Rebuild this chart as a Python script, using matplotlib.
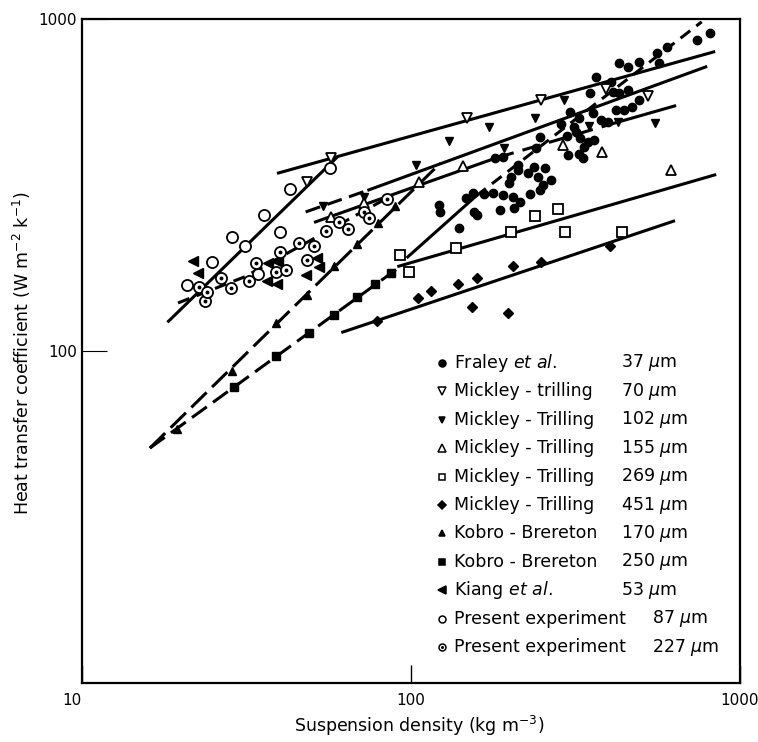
import matplotlib.pyplot as plt

# Fraley et al. 37 um (filled circles)
fraley_x = [121.7, 122.6, 140.1, 147.2, 154.5, 155.6, 158.9, 167.0, 177.8, 180.3,
            186.7, 190.8, 190.8, 199.0, 201.8, 204.6, 206.1, 211.9, 211.9, 214.9,
            227.3, 230.5, 237.1, 240.5, 243.9, 247.4, 247.4, 252.6, 256.2, 267.2,
            286.6, 299.0, 301.1, 305.4, 314.1, 318.5, 325.3, 325.3, 327.6, 334.6,
            336.9, 346.5, 351.4, 358.9, 361.4, 366.5, 379.6, 398.7, 407.2, 413.0,
            421.7, 430.6, 430.6, 446.1, 458.8, 458.8, 468.6, 492.2, 495.0, 558.5,
            566.2, 598.9, 739.6, 810.0]
fraley_y = [275.3, 262.3, 234.7, 289.0, 299.2, 262.3, 256.9, 297.1, 299.2, 381.3,
            266.0, 384.0, 295.1, 320.7, 334.3, 291.0, 269.7, 363.3, 350.9, 281.1,
            343.6, 297.1, 358.3, 408.8, 334.3, 441.1, 305.5, 316.2, 355.8, 327.4,
            482.6, 444.2, 389.4, 524.5, 472.7, 456.6, 503.1, 392.1, 438.1, 381.3,
            411.6, 426.1, 598.8, 520.9, 432.0, 669.0, 496.2, 489.4, 646.2, 602.9,
            531.8, 598.8, 737.2, 531.8, 716.9, 611.3, 543.0, 742.3, 570.0, 790.0,
            737.2, 823.7, 864.6, 907.5]

# Mickley-Trilling 70 um (open down triangles)
mt70_x = [48.2, 57.0, 148.2, 249.1, 393.0, 524.3]
mt70_y = [322.8, 381.3, 503.1, 570.2, 615.5, 586.2]

# Mickley-Trilling 102 um (filled down triangles)
mt102_x = [53.9, 71.9, 103.6, 130.6, 172.9, 192.1, 238.8, 292.8, 348.9, 427.6, 550.6]
mt102_y = [273.4, 291.0, 363.3, 429.0, 472.7, 408.8, 503.1, 570.2, 476.1, 489.4, 485.9]

# Mickley-Trilling 155 um (open up triangles)
mt155_x = [57.0, 71.9, 105.8, 144.1, 290.7, 382.2, 616.1]
mt155_y = [253.3, 279.1, 322.8, 360.9, 417.3, 397.6, 350.9]

# Mickley-Trilling 269 um (open squares)
mt269_x = [92.6, 98.6, 137.0, 202.0, 239.0, 281.0, 295.0, 437.0]
mt269_y = [195.0, 173.0, 204.0, 228.0, 255.0, 268.0, 228.0, 228.0]

# Mickley-Trilling 451 um (filled diamonds)
mt451_x = [78.8, 105.0, 115.0, 139.0, 159.0, 153.0, 198.0, 205.0, 249.0, 404.0]
mt451_y = [123.0, 144.0, 152.0, 159.0, 166.0, 136.0, 130.0, 180.0, 185.0, 207.0]

# Kobro-Brereton 170 um (filled up triangles)
kb170_x = [19.5, 28.7, 38.8, 48.2, 58.2, 68.4, 79.3, 89.3]
kb170_y = [58.2, 87.1, 121.0, 147.0, 180.0, 210.0, 243.0, 273.0]

# Kobro-Brereton 250 um (filled squares)
kb250_x = [29.1, 38.8, 48.9, 58.2, 68.4, 77.6, 86.9]
kb250_y = [78.0, 96.6, 113.0, 128.0, 145.0, 159.0, 172.0]

# Kiang et al. 53 um (filled left triangles)
kiang_x = [21.8, 22.6, 36.9, 39.6, 36.6, 39.3, 47.9, 51.7, 52.4]
kiang_y = [187.0, 172.0, 184.0, 185.0, 163.0, 159.0, 169.0, 191.0, 179.0]

# Present experiment 87 um (open circles)
pe87_x = [20.9, 24.9, 28.7, 31.4, 34.2, 35.7, 39.9, 42.8, 56.6]
pe87_y = [158.0, 185.0, 220.0, 207.0, 171.0, 257.0, 228.0, 307.0, 356.0]

# Present experiment 227 um (dotted circles)
pe227_x = [22.7, 23.7, 24.0, 26.5, 28.5, 32.3, 33.9, 38.8, 40.1, 41.6,
           45.6, 48.5, 50.6, 55.1, 60.3, 64.3, 71.9, 74.5, 84.5]
pe227_y = [156.0, 141.0, 150.0, 166.0, 155.0, 163.0, 184.0, 173.0, 199.0, 175.0,
           211.0, 188.0, 207.0, 230.0, 245.0, 233.0, 262.0, 252.0, 287.0]

# correlation lines (end points)
line_pe87_x, line_pe87_y = [18.2, 59.8], [122.0, 384.0]
line_pe227_x, line_pe227_y = [19.6, 31.2, 88.1], [139.5, 167.1, 295.0]
line_kb170_x, line_kb170_y = [16.1, 123.0], [51.0, 368.0]
line_kb250_x, line_kb250_y = [16.1, 93.2], [51.0, 180.0]
line_mt451_x, line_mt451_y = [62.1, 629.0], [114.0, 246.0]
line_mt269_x, line_mt269_y = [91.9, 839.0], [180.0, 339.0]
line_fr_solid_x, line_fr_solid_y = [97.9, 158.0], [192.0, 293.0]
line_fr_dash_x, line_fr_dash_y = [158.0, 766.0], [293.0, 980.0]
line_mt70_x, line_mt70_y = [39.6, 833.0], [343.6, 795.5]
line_mt102_dash_x, line_mt102_dash_y = [47.9, 74.5], [262.3, 305.5]
line_mt102_x, line_mt102_y = [74.5, 787.6], [305.5, 716.9]
line_mt155_a_x, line_mt155_a_y = [51.3, 181.6], [244.7, 381.3]
line_mt155_b_x, line_mt155_b_y = [181.6, 427.6], [381.3, 489.4]
line_mt155_c_x, line_mt155_c_y = [427.6, 633.7], [489.4, 546.9]

legend_names = ["Fraley $\\it{et\\ al.}$", "Mickley - trilling", "Mickley - Trilling",
                "Mickley - Trilling", "Mickley - Trilling", "Mickley - Trilling",
                "Kobro - Brereton", "Kobro - Brereton", "Kiang $\\it{et\\ al.}$",
                "Present experiment", "Present experiment"]
legend_sizes = ["37", "70", "102", "155", "269", "451", "170", "250", "53", "87", "227"]

fig = plt.figure(figsize=(7.58, 7.42), dpi=100)
ax = fig.add_axes([0.108, 0.0795, 0.868, 0.895])
ax.set_xscale('log')
ax.set_yscale('log')
ax.set_xlim(10, 1000)
ax.set_ylim(10, 1000)

k = 'black'
lw = 2.2
ax.plot(line_pe87_x, line_pe87_y, color=k, lw=lw, solid_capstyle='butt')
ax.plot(line_pe227_x, line_pe227_y, color=k, lw=lw, dashes=(4, 2.5))
ax.plot(line_kb170_x, line_kb170_y, color=k, lw=lw, dashes=(7, 2.5))
ax.plot(line_kb250_x, line_kb250_y, color=k, lw=lw, dashes=(6, 2.5))
ax.plot(line_mt451_x, line_mt451_y, color=k, lw=lw)
ax.plot(line_mt269_x, line_mt269_y, color=k, lw=lw)
ax.plot(line_fr_solid_x, line_fr_solid_y, color=k, lw=lw)
ax.plot(line_fr_dash_x, line_fr_dash_y, color=k, lw=lw, dashes=(4, 2.5))
ax.plot(line_mt70_x, line_mt70_y, color=k, lw=lw)
ax.plot(line_mt102_dash_x, line_mt102_dash_y, color=k, lw=lw, dashes=(5, 2.5))
ax.plot(line_mt102_x, line_mt102_y, color=k, lw=lw)
ax.plot(line_mt155_a_x, line_mt155_a_y, color=k, lw=lw)
ax.plot(line_mt155_b_x, line_mt155_b_y, color=k, lw=lw, dashes=(6, 3))
ax.plot(line_mt155_c_x, line_mt155_c_y, color=k, lw=lw)

ms = 6
mk = dict(linestyle='none', color=k, markeredgecolor=k)
ax.plot(fraley_x, fraley_y, marker='o', ms=ms, **mk)
ax.plot(mt70_x, mt70_y, marker='v', ms=ms + 1, markerfacecolor='white', mew=1.3, **mk)
ax.plot(mt102_x, mt102_y, marker='v', ms=ms, **mk)
ax.plot(mt155_x, mt155_y, marker='^', ms=ms + 1, markerfacecolor='white', mew=1.3, **mk)
ax.plot(mt269_x, mt269_y, marker='s', ms=ms + 1, markerfacecolor='white', mew=1.3, **mk)
ax.plot(mt451_x, mt451_y, marker='D', ms=ms - 1, **mk)
ax.plot(kb170_x, kb170_y, marker='^', ms=ms, **mk)
ax.plot(kb250_x, kb250_y, marker='s', ms=ms - 0.5, **mk)
ax.plot(kiang_x, kiang_y, marker='<', ms=ms + 1, **mk)
ax.plot(pe87_x, pe87_y, marker='o', ms=ms + 2, markerfacecolor='white', mew=1.3, **mk)
ax.plot(pe227_x, pe227_y, marker='o', ms=ms + 2, markerfacecolor='white', mew=1.3, **mk)
ax.plot(pe227_x, pe227_y, marker='o', ms=1.8, **mk)

# legend drawn as text block
legend_markers = [('o', 'k', 5), ('v', 'w', 6), ('v', 'k', 5), ('^', 'w', 6),
                  ('s', 'w', 5), ('D', 'k', 4), ('^', 'k', 5), ('s', 'k', 5),
                  ('<', 'k', 6), ('o', 'w', 5), ('o', 'w', 5)]
y0 = 0.482
dy = 0.0428
for i, (name, size) in enumerate(zip(legend_names, legend_sizes)):
    yy = y0 - i * dy
    m, fc, s = legend_markers[i]
    ax.plot([0.547], [yy], marker=m, ms=s, markerfacecolor=fc, markeredgecolor=k,
            mew=1.1, linestyle='none', transform=ax.transAxes)
    if i == 10:
        ax.plot([0.547], [yy], marker='o', ms=1.2, color=k, transform=ax.transAxes)
    ax.text(0.565, yy, name, transform=ax.transAxes, fontsize=12.5, va='center')
    xs = 0.866 if i >= 9 else 0.819
    ax.text(xs, yy, size + " $\\mu$m", transform=ax.transAxes, fontsize=12.5, va='center')

ax.set_xticks([10, 100, 1000])
ax.set_xticklabels(['10', '100', '1000'])
ax.get_xticklabels()[0].set_horizontalalignment('right')
ax.set_yticks([100, 1000])
ax.set_yticklabels(['100', '1000'])
ax.minorticks_off()
ax.tick_params(axis='x', direction='in', length=13, width=1, labelsize=11, pad=7)
ax.tick_params(axis='y', direction='in', length=18, width=0.8, labelsize=11, pad=3.5)
for sp in ax.spines.values():
    sp.set_linewidth(1.6)

ax.set_xlabel('Suspension density (kg m$^{-3}$)', fontsize=12.5)
ax.xaxis.set_label_coords(0.512, -0.047)
ax.set_ylabel('Heat transfer coefficient (W m$^{-2}$ k$^{-1}$)', fontsize=12.5)
ax.yaxis.set_label_coords(-0.075, 0.497)

plt.savefig('out.png', dpi=100)
